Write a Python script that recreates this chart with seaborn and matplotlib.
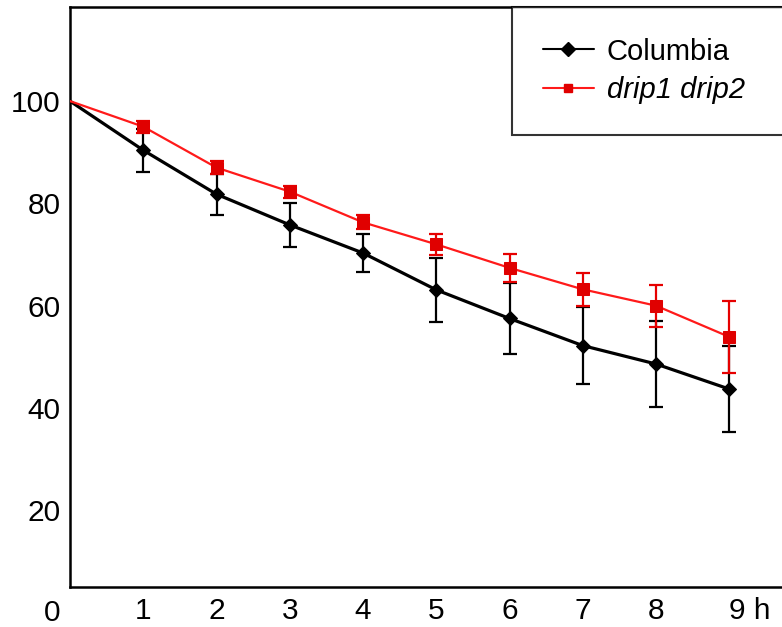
import pandas as pd
import matplotlib
matplotlib.use("Agg")
import matplotlib.pyplot as plt
import matplotlib.transforms as mtransforms
from matplotlib.lines import Line2D
import seaborn as sns

# data (percent remaining vs hours)
hours = [0, 1, 2, 3, 4, 5, 6, 7, 8, 9]
columbia = [100, 90.4, 81.8, 75.8, 70.3, 63.1, 57.5, 52.2, 48.6, 43.7]
columbia_err = [0, 4.2, 4.0, 4.3, 3.8, 6.3, 7.0, 7.5, 8.4, 8.4]
drip = [100, 95.0, 87.0, 82.3, 76.3, 72.0, 67.4, 63.2, 60.0, 53.9]
drip_err = [0, 1.2, 1.2, 1.2, 1.4, 2.1, 2.8, 3.2, 4.1, 7.0]
xtick_labels = ["1", "2", "3", "4", "5", "6", "7", "8", "9 h"]
ytick_vals = [20, 40, 60, 80, 100]
series_names = ["Columbia", "drip1 drip2"]

df_col = pd.DataFrame({"h": hours, "val": columbia})
df_drip = pd.DataFrame({"h": hours, "val": drip})

sns.set_style("white")
plt.rcParams["font.family"] = ["Liberation Sans", "DejaVu Sans"]
plt.rcParams["text.color"] = "black"
plt.rcParams["xtick.color"] = "black"
plt.rcParams["ytick.color"] = "black"

fig = plt.figure(figsize=(7.82, 6.27), dpi=100)
ax = fig.add_axes([70 / 782, 40 / 627, 712 / 782, 580 / 627])

# Columbia
ax.errorbar(hours[1:], columbia[1:], yerr=columbia_err[1:], fmt="none",
            ecolor="black", elinewidth=1.6, capsize=5, capthick=1.6, zorder=2)
sns.lineplot(data=df_col, x="h", y="val", ax=ax, color="black", linewidth=2.3,
             marker="D", markersize=7, markeredgecolor="black",
             markevery=list(range(1, len(hours))), zorder=3)
# drip1 drip2
ax.errorbar(hours[1:], drip[1:], yerr=drip_err[1:], fmt="none",
            ecolor="#e60000", elinewidth=1.6, capsize=5, capthick=1.6, zorder=4)
sns.lineplot(data=df_drip, x="h", y="val", ax=ax, color="#ff1a1a", linewidth=1.6,
             marker="s", markersize=8.7, markerfacecolor="#e00000",
             markeredgecolor="#e00000", markevery=list(range(1, len(hours))),
             zorder=5)

ax.set_xlim(0, 9.72)
ax.set_ylim(5, 118.4)
ax.set_xticks(hours[1:])
ax.set_xticklabels(xtick_labels)
ax.set_yticks(ytick_vals)
ax.tick_params(axis="both", length=0, labelsize=21.5, labelcolor="black")
ax.tick_params(axis="x", pad=7)
ax.tick_params(axis="y", pad=7)
ax.get_xticklabels()[-1].set_horizontalalignment("left")
ax.set_xlabel("")
ax.set_ylabel("")

# the 0 at the origin sits below the plotted range
trans = mtransforms.blended_transform_factory(ax.transAxes, ax.transData)
ax.text(-0.014, 0, "0", transform=trans, ha="right", va="center",
        fontsize=21.5, color="black", clip_on=False)

for side in ["left", "bottom", "top"]:
    ax.spines[side].set_color("black")
    ax.spines[side].set_linewidth(1.8)
ax.spines["right"].set_visible(False)

handles = [
    Line2D([], [], color="black", linewidth=1.5, marker="D", markersize=7,
           markerfacecolor="black", markeredgecolor="black"),
    Line2D([], [], color="#ff1a1a", linewidth=1.5, marker="s", markersize=6,
           markerfacecolor="#e00000", markeredgecolor="#e00000"),
]
leg = ax.legend(handles, series_names, loc="upper left", mode="expand",
                bbox_to_anchor=(0.621, 0, 0.39, 1.0), fontsize=21,
                frameon=True, fancybox=False, borderpad=1.05, labelspacing=0.36,
                handlelength=1.75, handletextpad=0.45, borderaxespad=0)
leg.get_frame().set_edgecolor("black")
leg.get_frame().set_linewidth(1.5)
for t in leg.get_texts():
    t.set_color("black")
leg.get_texts()[1].set_style("italic")

fig.savefig("out.png", dpi=100)
